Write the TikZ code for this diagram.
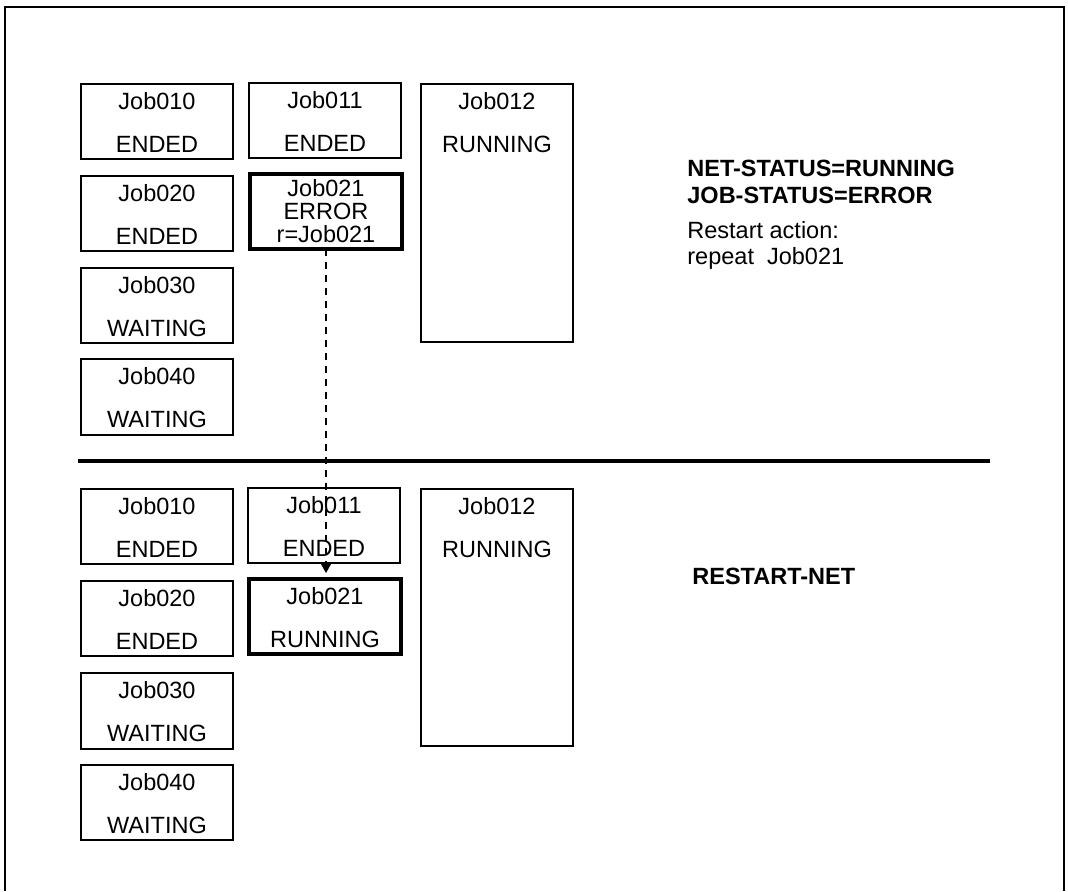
\documentclass[tikz,border=0pt]{standalone}
\usepackage{fontspec}
\setmainfont{Liberation Sans}
\usepackage{tikz}
\usetikzlibrary{arrows.meta,positioning,calc}

\begin{document}
\begin{tikzpicture}[
  x=0.5pt, y=-0.5pt,
  every node/.style={font=\fontsize{11.75}{13}\selectfont, inner sep=0pt},
  jobbox/.style ={draw=black, line width=1pt, outer sep=0pt,
                  minimum width=76pt, anchor=north west},
  errbox/.style ={jobbox, line width=2pt},
  divider/.style={draw=black, line width=1.6pt},
  frame/.style  ={draw=black, line width=0.8pt},
  statlbl/.style={anchor=base west, font=\fontsize{11.75}{13}\selectfont\bfseries},
  notelbl/.style={anchor=base west},
  link/.style   ={draw=black, line width=0.75pt, dash pattern=on 3.5pt off 3pt,
                  -{Triangle[length=5.5pt,width=6pt]}}]

\useasboundingbox (0,0) rectangle (1068,891);
\draw[frame] (5,891) -- (5,7) -- (1064,7) -- (1064,891);

% a job box with top left corner (x,y), height h and two text lines
\newcommand{\jobcell}[7]{%
  \node[#7, minimum height={#4*0.5pt}] (#1) at (#2,#3) {};
  \node[anchor=base] (#1-a) at ($(#1.north)+(0,25)$) {#5};
  \node[anchor=base] (#1-b) at ($(#1.north)+(0,68)$) {#6};}

% =======================  before the restart  ========================
\begin{scope}
  \jobcell{u10}{81}{84}{75}{Job010}{ENDED}{jobbox}
  \jobcell{u11}{249}{83}{75}{Job011}{ENDED}{jobbox}
  \jobcell{u12}{421}{84}{258}{Job012}{RUNNING}{jobbox}
  \jobcell{u20}{81}{176}{75}{Job020}{ENDED}{jobbox}
  \jobcell{u30}{81}{268}{75}{Job030}{WAITING}{jobbox}
  \jobcell{u40}{81}{359}{76}{Job040}{WAITING}{jobbox}

  \node[errbox, minimum height=37.5pt] (u21) at (250,174) {};
  \node[anchor=base] (u21-a) at ($(u21.north)+(0,22)$) {Job021};
  \node[anchor=base] (u21-b) at ($(u21.north)+(0,45)$) {ERROR};
  \node[anchor=base] (u21-c) at ($(u21.north)+(0,68)$) {r=Job021};

  \node[statlbl] (netstat) at (687,176) {NET-STATUS=RUNNING};
  \node[statlbl] (jobstat) at (687,203) {JOB-STATUS=ERROR};
  \node[notelbl] (action)  at (687,238) {Restart action:};
  \node[notelbl] (repeat)  at (687,264) {repeat\ \ Job021};
\end{scope}

\draw[divider] (78,461) -- (990,461);

% =======================  after the restart  =========================
\begin{scope}
  \jobcell{l10}{81}{489}{75}{Job010}{ENDED}{jobbox}
  \jobcell{l11}{248}{488}{75}{Job011}{ENDED}{jobbox}
  \jobcell{l12}{421}{489}{257}{Job012}{RUNNING}{jobbox}
  \jobcell{l20}{81}{581}{75}{Job020}{ENDED}{jobbox}
  \jobcell{l21}{249}{579}{75}{Job021}{RUNNING}{errbox}
  \jobcell{l30}{81}{673}{76}{Job030}{WAITING}{jobbox}
  \jobcell{l40}{81}{765}{75}{Job040}{WAITING}{jobbox}

  \node[statlbl] (restart) at (692,584) {RESTART-NET};
\end{scope}

% the repeated job
\coordinate (rerun) at ($(u21.south |- l21.north)+(0,-6)$);
\draw[link] (u21.south) -- (rerun);

\end{tikzpicture}
\end{document}
